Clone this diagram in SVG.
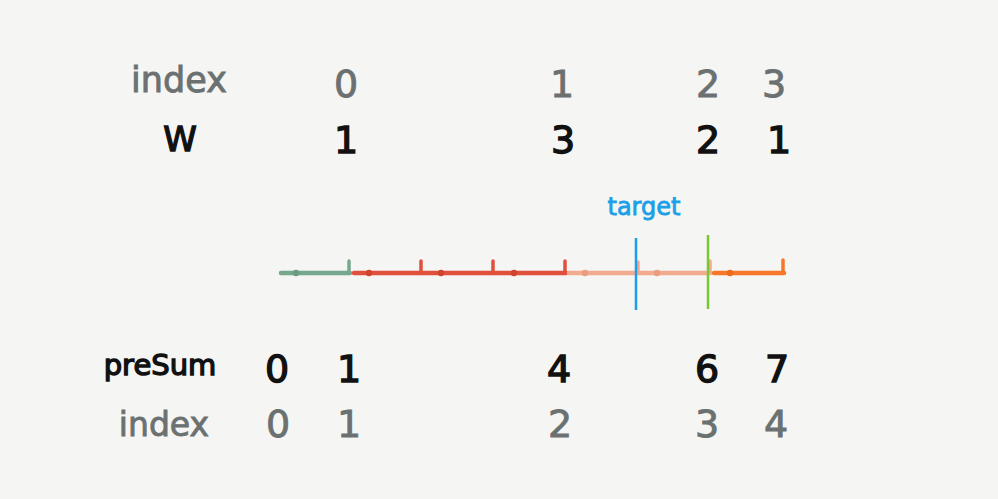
<svg xmlns="http://www.w3.org/2000/svg" width="998" height="499" viewBox="0 0 998 499">
<style>
text{font-family:"DejaVu Sans","Liberation Sans",sans-serif;text-anchor:middle}
.g{fill:#6b7171;stroke:#6b7171;stroke-width:0.9}
.k{fill:#111;stroke:#111;stroke-width:1.4}
.lab{font-size:35px}
.dg{font-size:38px}
.seg{stroke-width:4.5;stroke-linecap:round;fill:none}
.tk{stroke-width:3.5;stroke-linecap:round;fill:none}
</style>
<rect width="998" height="499" fill="#f5f5f3"/>
<g id="row-index-top">
<text class="g lab" x="179" y="92">index</text>
<text class="g dg" x="346" y="97">0</text>
<text class="g dg" x="562" y="97">1</text>
<text class="g dg" x="708" y="97">2</text>
<text class="g dg" x="774" y="97">3</text>
</g>
<g id="row-w">
<text class="k" x="180" y="151" font-size="34">W</text>
<text class="k dg" x="346" y="153">1</text>
<text class="k dg" x="563" y="153">3</text>
<text class="k dg" x="708" y="153">2</text>
<text class="k dg" x="779" y="153">1</text>
</g>
<g id="target-label">
<text x="644" y="215" font-size="24" fill="#1a9fe8" stroke="#1a9fe8" stroke-width="0.8">target</text>
</g>
<g id="number-line">
<line class="seg" x1="281" y1="273" x2="350" y2="273" stroke="#76a88e"/>
<line class="tk" x1="349" y1="273" x2="349" y2="261" stroke="#76a88e"/>
<circle cx="296" cy="273" r="3.2" fill="#6a9a80"/>
<line class="seg" x1="354" y1="273" x2="566" y2="273" stroke="#e0503c"/>
<line class="tk" x1="421" y1="273" x2="421" y2="261" stroke="#e0503c"/>
<line class="tk" x1="493" y1="273" x2="493" y2="261" stroke="#e0503c"/>
<line class="tk" x1="565" y1="273" x2="565" y2="261" stroke="#e0503c"/>
<circle cx="369" cy="273" r="3.2" fill="#d0432f"/>
<circle cx="441" cy="273" r="3.2" fill="#d0432f"/>
<circle cx="514" cy="273" r="3.2" fill="#d0432f"/>
<line class="seg" x1="569" y1="273" x2="710" y2="273" stroke="#f2ab8f"/>
<line class="tk" x1="638" y1="273" x2="638" y2="262" stroke="#f2ab8f"/>
<line class="tk" x1="710" y1="273" x2="710" y2="261" stroke="#f2ab8f"/>
<circle cx="585" cy="273" r="3.2" fill="#eb9c7e"/>
<circle cx="657" cy="273" r="3.2" fill="#eb9c7e"/>
<line class="seg" x1="714" y1="273" x2="784" y2="273" stroke="#f7772a"/>
<line class="tk" x1="783" y1="273" x2="783" y2="260" stroke="#f7772a"/>
<circle cx="730" cy="273" r="3.2" fill="#ec6a1f"/>
<line x1="636" y1="238" x2="636" y2="310" stroke="#1a9fe8" stroke-width="2.5"/>
<line x1="708" y1="235" x2="708" y2="309" stroke="#78c832" stroke-width="2.5"/>
</g>
<g id="row-presum">
<text class="k" x="160" y="375" font-size="29">preSum</text>
<text class="k dg" x="277" y="382">0</text>
<text class="k dg" x="349" y="382">1</text>
<text class="k dg" x="559" y="382">4</text>
<text class="k dg" x="707" y="382">6</text>
<text class="k dg" x="777" y="382">7</text>
</g>
<g id="row-index-bottom">
<text class="g" x="164" y="436" font-size="33">index</text>
<text class="g dg" x="278" y="437">0</text>
<text class="g dg" x="349" y="437">1</text>
<text class="g dg" x="560" y="437">2</text>
<text class="g dg" x="707" y="437">3</text>
<text class="g dg" x="776" y="437">4</text>
</g>
</svg>
